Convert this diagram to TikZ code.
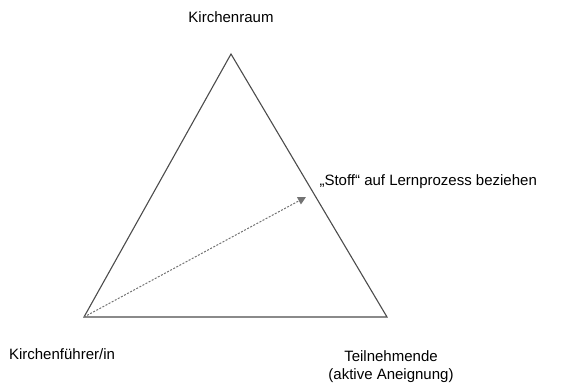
\documentclass[tikz,border=0pt]{standalone}
\usepackage{fontspec}
\setmainfont{Liberation Sans}
\usetikzlibrary{arrows.meta}
\begin{document}
\begin{tikzpicture}[x=1pt,y=-1pt,font=\fontsize{15}{18}\selectfont]
			\useasboundingbox (0,0) rectangle (563,383);
			
			%Corners
			\coordinate (raum) at (231,54);
			\coordinate (fuehrer) at (84,317);
			\coordinate (teilnehmer) at (387,317);
			\coordinate (stoffziel) at (306,197);
			
			%Labels
			\node (raumLabel) at (231,17) [text centered] {Kirchenraum};
			\node (fuehrerLabel) at (62,354) [text centered] {Kirchenführer/in};
			\node (teilnehmerLabel) at (391,367) [align=center, text centered] {Teilnehmende\\(aktive Aneignung)};
			\node (stoffLabel) at (316,182) [anchor=west] {„Stoff“ auf Lernprozess beziehen};
			
			%Links
			\draw [line width=1.1pt, draw=black!70] (raum) -- (teilnehmer) -- (fuehrer) -- cycle;
			\draw [-{Triangle[length=8pt,width=8pt]}, line width=1pt, draw=black!55, dash pattern=on 2pt off 1.5pt] (fuehrer) -- (stoffziel);
			
			\end{tikzpicture}
\end{document}
